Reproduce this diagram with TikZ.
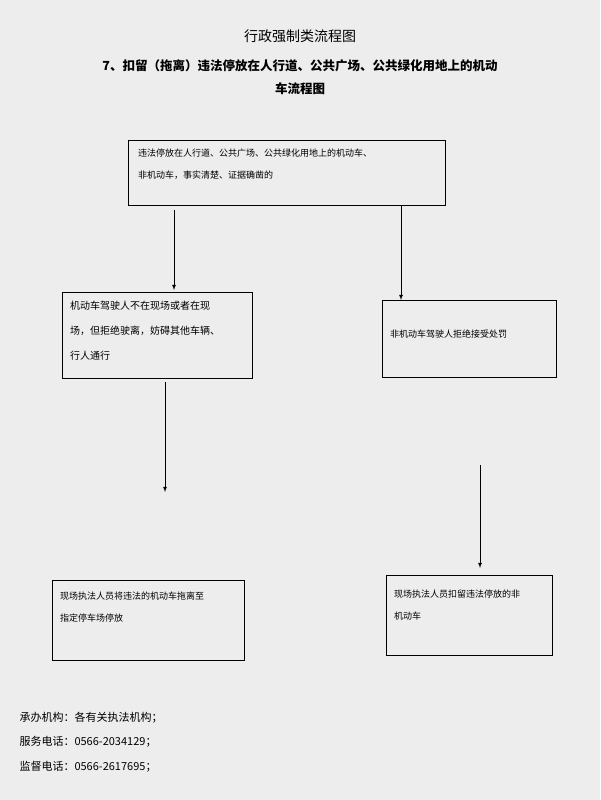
\documentclass[tikz,border=0pt]{standalone}
\usepackage{fontspec}
\newfontfamily\cjk{Noto Sans CJK SC}
\begin{document}
\begin{tikzpicture}[x=1pt,y=-1pt,
  box/.style={inner sep=4pt,font=\cjk\fontsize{9}{22}\selectfont,align=left,anchor=north west},
  arr/.style={-latex,thick}]
\useasboundingbox[fill=gray!14] (0,0) rectangle (600,800);
\node[font=\cjk\fontsize{14}{16}\selectfont] (t) at (300,36) {行政强制类流程图};
\node[font=\cjk\bfseries\fontsize{12.5}{23}\selectfont,align=center] (st) at (300,77) {7、扣留（拖离）违法停放在人行道、公共广场、公共绿化用地上的机动\\车流程图};
\draw[thick] (128,140) rectangle (445,205);
\node[box] (a) at (134,145) {违法停放在人行道、公共广场、公共绿化用地上的机动车、\\非机动车，事实清楚、证据确凿的};
\draw[thick] (62,292) rectangle (252,378);
\node[box,font=\cjk\fontsize{10}{25}\selectfont] (b) at (66,297) {机动车驾驶人不在现场或者在现\\场，但拒绝驶离，妨碍其他车辆、\\行人通行};
\draw[thick] (382,300) rectangle (556,377);
\node[box] (c) at (386,326) {非机动车驾驶人拒绝接受处罚};
\draw[thick] (52,580) rectangle (244,660);
\node[box] (d) at (56,588) {现场执法人员将违法的机动车拖离至\\指定停车场停放};
\draw[thick] (386,575) rectangle (552,655);
\node[box] (e) at (390,586) {现场执法人员扣留违法停放的非\\机动车};
\coordinate (a1) at (174,210); \coordinate (a2) at (174,290);
\coordinate (b1) at (401,205); \coordinate (b2) at (401,300);
\coordinate (c1) at (165,382); \coordinate (c2) at (165,492);
\coordinate (d1) at (480,465); \coordinate (d2) at (480,568);
\draw[arr] (a1)--(a2); \draw[arr] (b1)--(b2);
\draw[arr] (c1)--(c2); \draw[arr] (d1)--(d2);
\node[font=\cjk\fontsize{11}{13}\selectfont,anchor=west] (f1) at (16,718) {承办机构：各有关执法机构；};
\node[font=\cjk\fontsize{11}{13}\selectfont,anchor=west] (f2) at (16,742) {服务电话：0566-2034129；};
\node[font=\cjk\fontsize{11}{13}\selectfont,anchor=west] (f3) at (16,767) {监督电话：0566-2617695；};
\end{tikzpicture}
\end{document}
